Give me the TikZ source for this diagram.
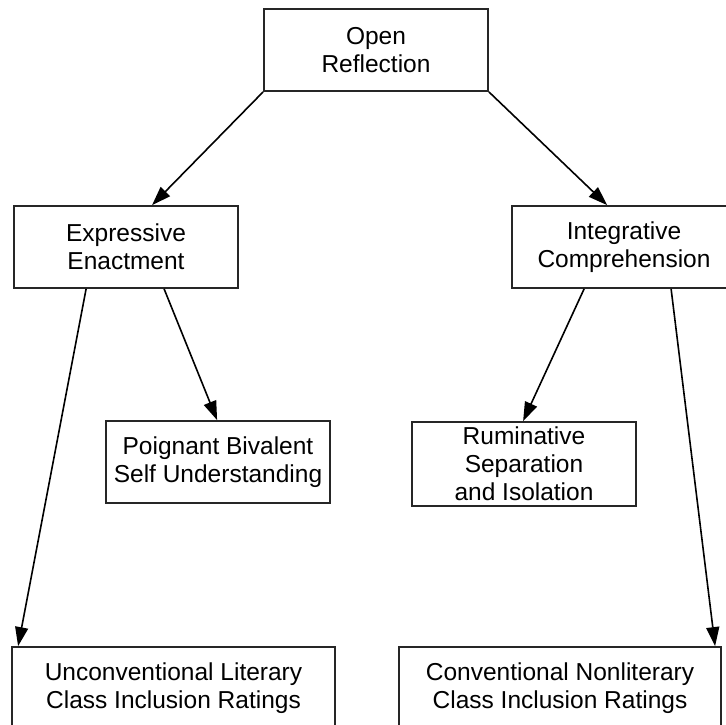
\documentclass[tikz,border=0pt]{standalone}
\usepackage{fontspec}
\setmainfont{Liberation Sans}
\usetikzlibrary{arrows.meta}
\tikzset{
  x=1pt,y=-1pt,
  box/.style={draw=black!85,line width=1.8pt,fill=white,align=center,inner sep=0pt,
    minimum height=82pt,font=\fontsize{24.5}{28}\selectfont},
  conn/.style={line width=1.6pt,-{Triangle[length=19pt,width=13pt]},shorten >=0pt}
}
\begin{document}
\begin{tikzpicture}
\useasboundingbox (0,0) rectangle (725,725);
\node[box,minimum width=224pt] (open) at (376,50) {Open\\Reflection};
\node[box,minimum width=224pt] (exp) at (126,247) {Expressive\\Enactment};
\node[box,minimum width=224pt] (int) at (624,247) {Integrative\\Comprehension};
\node[box,minimum width=224pt] (poi) at (218,462) {Poignant Bivalent\\Self Understanding};
\node[box,minimum width=224pt,minimum height=84pt] (rum) at (524,464) {Ruminative\\Separation\\and Isolation};
\node[box,minimum width=323pt] (unc) at (173.5,688) {Unconventional Literary\\Class Inclusion Ratings};
\node[box,minimum width=322pt] (con) at (560,688) {Conventional Nonliterary\\Class Inclusion Ratings};
\draw[conn] (open.south west) -- ([xshift=139pt]exp.north west);
\draw[conn] (open.south east) -- ([xshift=96pt]int.north west);
\draw[conn] ([xshift=73pt]exp.south west) -- ([xshift=7pt]unc.north west);
\draw[conn] ([xshift=151pt]exp.south west) -- ([xshift=112pt]poi.north west);
\draw[conn] ([xshift=73pt]int.south west) -- ([xshift=112pt]rum.north west);
\draw[conn] ([xshift=160pt]int.south west) -- ([xshift=317pt]con.north west);
\end{tikzpicture}
\end{document}
